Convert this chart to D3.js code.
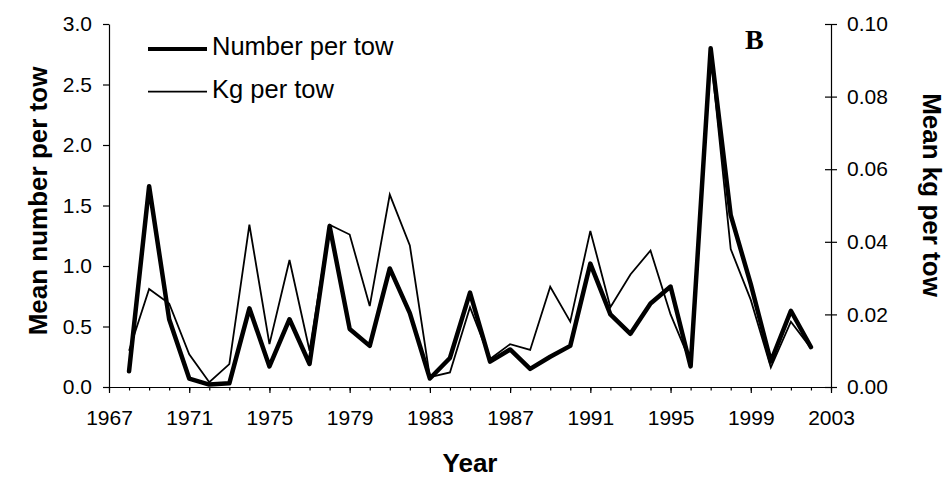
<!DOCTYPE html>
<html>
<head>
<meta charset="utf-8">
<script src="https://cdn.jsdelivr.net/npm/d3@7"></script>
<style>
  html, body { margin: 0; padding: 0; background: #fff; }
  svg { display: block; }
</style>
</head>
<body>
<svg id="chart" width="948" height="481"></svg>
<script>
const years = [1968,1969,1970,1971,1972,1973,1974,1975,1976,1977,1978,1979,1980,1981,1982,1983,1984,1985,1986,1987,1988,1989,1990,1991,1992,1993,1994,1995,1996,1997,1998,1999,2000,2001,2002];
const numberPerTow = [0.13,1.66,0.56,0.07,0.02,0.03,0.65,0.17,0.56,0.19,1.33,0.48,0.34,0.98,0.61,0.07,0.24,0.78,0.21,0.31,0.15,0.25,0.34,1.02,0.60,0.44,0.69,0.83,0.17,2.80,1.42,0.85,0.21,0.63,0.33];
const kgPerTow = [0.010,0.027,0.023,0.009,0.0013,0.0063,0.0447,0.0118,0.035,0.010,0.0447,0.042,0.0223,0.053,0.039,0.0027,0.004,0.022,0.0077,0.0118,0.0102,0.0276,0.018,0.043,0.022,0.031,0.0376,0.020,0.0068,0.092,0.038,0.024,0.0054,0.018,0.0107];
const xTickYears = [1967,1971,1975,1979,1983,1987,1991,1995,1999,2003];
const leftTicks = [0,0.5,1.0,1.5,2.0,2.5,3.0];
const rightTicks = [0,0.02,0.04,0.06,0.08,0.10];
const seriesNames = ["Number per tow","Kg per tow"];
const panelLabel = "B";

const svg = d3.select("#chart");
const W = 948, H = 481;
const m = {left: 109, right: W - 831, top: 24, bottom: H - 387};
const x = d3.scaleLinear().domain([1967, 2003]).range([m.left, W - m.right]);
const yL = d3.scaleLinear().domain([0, 3]).range([H - m.bottom, m.top]);
const yR = d3.scaleLinear().domain([0, 0.1]).range([H - m.bottom, m.top]);
const font = "'Liberation Sans', Arial, sans-serif";
const tickFont = 21;

// x axis: minor yearly ticks, major labelled every 4 years
const xMinor = d3.range(1967, 2004);
const gx = svg.append("g").attr("transform", `translate(0,${H - m.bottom})`);
gx.call(d3.axisBottom(x).tickValues(xMinor).tickSize(3.5).tickSizeOuter(0).tickFormat(""));
gx.select(".domain").remove();
const gx2 = svg.append("g").attr("transform", `translate(0,${H - m.bottom})`);
gx2.call(d3.axisBottom(x).tickValues(xTickYears).tickSize(6).tickSizeOuter(0).tickFormat(d3.format("d")).tickPadding(17));
gx2.selectAll("text").attr("font-family", font).attr("font-size", tickFont).attr("fill", "#000");

const gl = svg.append("g").attr("transform", `translate(${m.left},0)`);
gl.call(d3.axisLeft(yL).tickValues(leftTicks).tickSize(6).tickSizeOuter(0).tickPadding(11).tickFormat(d3.format(".1f")));
gl.selectAll("text").attr("font-family", font).attr("font-size", tickFont).attr("fill", "#000");

const gr = svg.append("g").attr("transform", `translate(${W - m.right},0)`);
gr.call(d3.axisRight(yR).tickValues(rightTicks).tickSize(6).tickSizeOuter(0).tickPadding(10).tickFormat(d3.format(".2f")));
gr.selectAll(".tick line").attr("x1", -6);
gr.selectAll("text").attr("font-family", font).attr("font-size", tickFont).attr("fill", "#000");

svg.selectAll(".domain, .tick line").attr("stroke", "#000").attr("stroke-width", 1.2);

// lines
const lineN = d3.line().x((d, i) => x(years[i])).y(d => yL(d));
const lineK = d3.line().x((d, i) => x(years[i])).y(d => yR(d));
svg.append("path").datum(kgPerTow).attr("d", lineK).attr("fill", "none").attr("stroke", "#000").attr("stroke-width", 1.8).attr("stroke-linejoin", "miter");
svg.append("path").datum(numberPerTow).attr("d", lineN).attr("fill", "none").attr("stroke", "#000").attr("stroke-width", 4.5).attr("stroke-linejoin", "round").attr("stroke-linecap", "round");

// legend
const leg = svg.append("g");
[[4, 49, 55], [1.7, 91.7, 98]].forEach((s, i) => {
  leg.append("line").attr("x1", 148).attr("x2", 207).attr("y1", s[1]).attr("y2", s[1]).attr("stroke", "#000").attr("stroke-width", s[0]);
  leg.append("text").attr("x", 212).attr("y", s[2]).attr("font-family", font).attr("font-size", 25.5).text(seriesNames[i]);
});

svg.append("text").attr("x", 745).attr("y", 49).attr("font-family", "'Liberation Serif', 'Times New Roman', serif").attr("font-weight", "bold").attr("font-size", 28).text(panelLabel);

// titles
svg.append("text").attr("x", (m.left + W - m.right)/2).attr("y", 472).attr("text-anchor", "middle").attr("font-family", font).attr("font-weight", "bold").attr("font-size", 26).text("Year");
svg.append("text").attr("transform", `translate(47,201) rotate(-90)`).attr("text-anchor", "middle").attr("font-family", font).attr("font-weight", "bold").attr("font-size", 26).text("Mean number per tow");
svg.append("text").attr("transform", `translate(923,195) rotate(90)`).attr("text-anchor", "middle").attr("font-family", font).attr("font-weight", "bold").attr("font-size", 26).text("Mean kg per tow");
</script>
</body>
</html>
